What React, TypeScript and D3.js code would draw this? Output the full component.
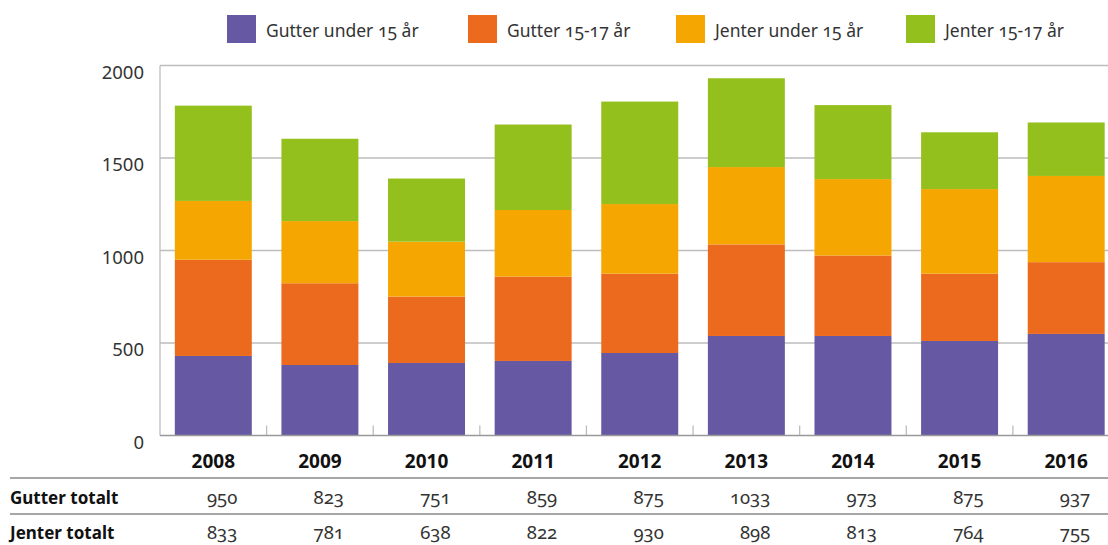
import * as d3 from "d3";
import { useEffect, useRef } from "react";

// categories
const years = ["2008", "2009", "2010", "2011", "2012", "2013", "2014", "2015", "2016"];

// series values
const gutterUnder15 = [430, 381, 392, 403, 446, 538, 538, 511, 549];
const gutter1517 = [520, 442, 359, 456, 429, 495, 435, 364, 388];
const jenterUnder15 = [318, 336, 297, 360, 376, 418, 413, 457, 466];
const jenter1517 = [515, 445, 341, 462, 554, 480, 400, 307, 289];

// table rows
const gutterTotalt = [950, 823, 751, 859, 875, 1033, 973, 875, 937];
const jenterTotalt = [833, 781, 638, 822, 930, 898, 813, 764, 755];

const seriesNames = ["Gutter under 15 år", "Gutter 15-17 år", "Jenter under 15 år", "Jenter 15-17 år"];
const colors = ["#6758a3", "#eb6a1d", "#f6a601", "#93c01c"];
const yTicks = [0, 500, 1000, 1500, 2000];

const App = () => {
  const ref = useRef<SVGSVGElement>(null);

  useEffect(() => {
    const W = 1108,
      H = 545;
    const left = 160,
      right = 1119.5,
      top = 65.5,
      bottom = 435.5;

    const svg = d3.select(ref.current);
    svg.selectAll("*").remove();
    svg.attr("width", W).attr("height", H);

    const font = "'Noto Sans', 'DejaVu Sans', sans-serif";

    const rows = years.map((year, i) => ({
      year,
      k0: gutterUnder15[i],
      k1: gutter1517[i],
      k2: jenterUnder15[i],
      k3: jenter1517[i],
    }));
    const keys = ["k0", "k1", "k2", "k3"];

    const x = d3
      .scaleBand()
      .domain(years)
      .range([left, right])
      .paddingInner(0.278)
      .paddingOuter(0.139);
    const step = x.step();

    const y = d3.scaleLinear().domain([0, 2000]).range([bottom, top]);

    // gridlines
    svg
      .append("g")
      .selectAll("line")
      .data(yTicks.filter((t) => t > 0))
      .join("line")
      .attr("x1", left)
      .attr("x2", W)
      .attr("y1", (d) => y(d))
      .attr("y2", (d) => y(d))
      .attr("stroke", "#bdbdbd")
      .attr("stroke-width", 1.3);

    // left frame
    svg
      .append("line")
      .attr("x1", left)
      .attr("x2", left)
      .attr("y1", top)
      .attr("y2", bottom)
      .attr("stroke", "#bdbdbd")
      .attr("stroke-width", 1.3);

    // y labels
    svg
      .append("g")
      .selectAll("text")
      .data(yTicks)
      .join("text")
      .attr("x", 144)
      .attr("y", (d) => y(d) + 13)
      .attr("text-anchor", "end")
      .attr("font-family", font)
      .attr("font-size", 18.5)
      .attr("fill", "#333")
      .text((d) => d);

    // bars
    const stacked = d3.stack<any>().keys(keys)(rows);
    svg
      .append("g")
      .selectAll("g")
      .data(stacked)
      .join("g")
      .attr("fill", (_, i) => colors[i])
      .selectAll("rect")
      .data((d) => d)
      .join("rect")
      .attr("x", (d) => x(d.data.year)!)
      .attr("width", x.bandwidth())
      .attr("y", (d) => y(d[1]))
      .attr("height", (d) => y(d[0]) - y(d[1]));

    // small ticks at band boundaries
    svg
      .append("g")
      .selectAll("line")
      .data(years.slice(1))
      .join("line")
      .attr("x1", (d) => x(d)! - (step - x.bandwidth()) / 2)
      .attr("x2", (d) => x(d)! - (step - x.bandwidth()) / 2)
      .attr("y1", bottom - 10)
      .attr("y2", bottom)
      .attr("stroke", "#bdbdbd")
      .attr("stroke-width", 1.3);

    // baseline
    svg
      .append("line")
      .attr("x1", left)
      .attr("x2", W)
      .attr("y1", bottom)
      .attr("y2", bottom)
      .attr("stroke", "#999")
      .attr("stroke-width", 1.5);

    // legend
    const legendX = [227, 468, 676, 906];
    const lg = svg
      .append("g")
      .selectAll("g")
      .data(seriesNames)
      .join("g")
      .attr("transform", (_, i) => `translate(${legendX[i]},15)`);
    lg.append("rect")
      .attr("width", 29)
      .attr("height", 28)
      .attr("fill", (_, i) => colors[i]);
    lg.append("text")
      .attr("x", 39)
      .attr("y", 22)
      .attr("font-family", font)
      .attr("font-size", 17.5)
      .attr("fill", "#333")
      .style("font-variant-numeric", "oldstyle-nums")
      .text((d) => d);

    // year labels
    svg
      .append("g")
      .selectAll("text")
      .data(years)
      .join("text")
      .attr("x", (d) => x(d)! + x.bandwidth() / 2)
      .attr("y", 468)
      .attr("text-anchor", "middle")
      .attr("font-family", font)
      .attr("font-weight", "bold")
      .attr("font-size", 19)
      .attr("fill", "#111")
      .text((d) => d);

    // table lines
    svg
      .append("line")
      .attr("x1", 10)
      .attr("x2", W)
      .attr("y1", 478)
      .attr("y2", 478)
      .attr("stroke", "#888")
      .attr("stroke-width", 1.6);
    svg
      .append("line")
      .attr("x1", 10)
      .attr("x2", W)
      .attr("y1", 514)
      .attr("y2", 514)
      .attr("stroke", "#888")
      .attr("stroke-width", 1.3);

    const tableRows = [
      { label: "Gutter totalt", values: gutterTotalt, yy: 504 },
      { label: "Jenter totalt", values: jenterTotalt, yy: 539 },
    ];
    tableRows.forEach((r) => {
      svg
        .append("text")
        .attr("x", 10)
        .attr("y", r.yy)
        .attr("font-family", font)
        .attr("font-weight", "bold")
        .attr("font-size", 17)
        .attr("fill", "#111")
        .style("font-stretch", "condensed")
        .text(r.label);
      svg
        .append("g")
        .selectAll("text")
        .data(r.values)
        .join("text")
        .attr("x", (_, i) => x(years[i])! + x.bandwidth() / 2 + 24)
        .attr("y", r.yy)
        .attr("text-anchor", "end")
        .attr("font-family", font)
        .attr("font-size", 18.5)
        .attr("fill", "#333")
        .style("font-variant-numeric", "oldstyle-nums")
        .text((d) => d);
    });
  }, []);

  return (
    <svg
      ref={ref}
      width={1108}
      height={545}
      style={{ position: "absolute", left: 0, top: 0, display: "block", background: "#fff" }}
    />
  );
};

export default App;
